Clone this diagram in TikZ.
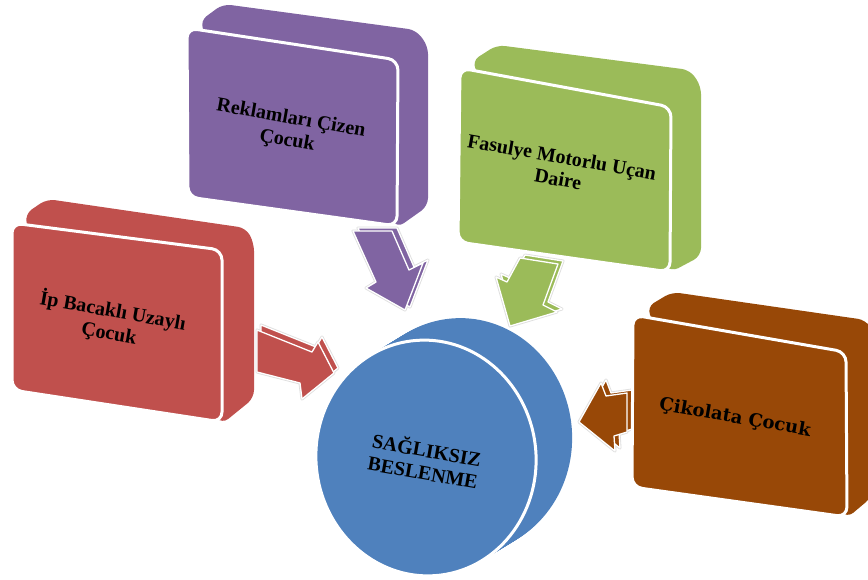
\documentclass[tikz,border=0pt]{standalone}
\usepackage{fontspec}
\setmainfont{Liberation Serif}
\newfontfamily\slabfont{DejaVu Serif}
\definecolor{cpurple}{HTML}{8064A2}
\definecolor{cred}{HTML}{C0504D}
\definecolor{cgreen}{HTML}{9BBB59}
\definecolor{cbrown}{HTML}{984807}
\definecolor{cblue}{HTML}{4F81BD}
\newcommand{\threedarrow}[3]{%
  \draw[halo, shift={#2}] #3 -- cycle;
  \draw[halo] #3 -- cycle;
  \filldraw[#1, face, shift={#2}] #3 -- cycle;
  \filldraw[#1, face] #3 -- cycle;}
\begin{document}
\begin{tikzpicture}[x=1pt,y=-1pt,
  halo/.style={draw=black!13, line width=3pt, line join=round},
  face/.style={draw=white, line width=1.3pt, line join=round},
  boxback/.style={rounded corners=8pt},
  boxfront/.style={rounded corners=10pt, draw=white, line width=3pt},
  lbl/.style={font=\bfseries\fontsize{20}{22.5}\selectfont, align=center, rotate=-10, text=black}]
\useasboundingbox (0,0) rectangle (868,579);
\clip (0,0) rectangle (868,579);

% block arrows
\threedarrow{cred}{(4,-5)}{(257,330) -- (312,352) -- (318,342) -- (334,373) -- (302,399) -- (300,383) -- (257,372)}
\threedarrow{cpurple}{(5,-3)}{(353,231) -- (392,231) -- (409,270) -- (423,263) -- (405,310) -- (366,288) -- (376,282)}
\threedarrow{cgreen}{(5,-3)}{(520,258) -- (558,264) -- (543,305) -- (557,312) -- (510,326) -- (496,277) -- (507,282)}
\threedarrow{cbrown}{(5,-3)}{(579,422) -- (601,383) -- (606,396) -- (627,393) -- (627,432) -- (614,436) -- (615,451)}

% red box
\fill[cred, boxback] (30,240) -- (25,214) -- (47,199) -- (246,228) -- (254,243) -- (254,398) -- (222,424) -- (200,400) -- cycle;
\filldraw[cred, boxfront] (12,223) -- (222,250) -- (222,422) -- (12,390) -- cycle;
% purple box
\fill[cpurple, boxback] (215,60) -- (200,21) -- (223,4) -- (416,30) -- (428,46) -- (428,206) -- (397,228) -- (380,200) -- cycle;
\filldraw[cpurple, boxfront] (187,28) -- (398,60) -- (397,226) -- (188,197) -- cycle;
% green box
\fill[cgreen, boxback] (490,100) -- (472,61) -- (497,45) -- (690,70) -- (701,86) -- (701,256) -- (671,272) -- (650,250) -- cycle;
\filldraw[cgreen, boxfront] (460,68) -- (671,107) -- (670,272) -- (458,242) -- cycle;
% brown box
\fill[cbrown, boxback] (660,340) -- (647,307) -- (672,292) -- (866,320) -- (872,330) -- (872,497) -- (847,518) -- (830,500) -- cycle;
\filldraw[cbrown, boxfront] (633,315) -- (846,352) -- (847,517) -- (632,487) -- cycle;

% central disc
\foreach \i in {0,...,25}
  \fill[cblue, shift={(1.44*\i,-0.88*\i)}, rotate around={7:(426,458)}] (426,458) ellipse [x radius=110, y radius=118];
\filldraw[cblue, draw=white, line width=3pt, rotate around={7:(426,458)}] (426,458) ellipse [x radius=110, y radius=118];

% labels
\node[lbl] (reklam) at (289,130) {Reklamları Çizen\\Çocuk};
\node[lbl] (ip) at (111,322) {İp Bacaklı Uzaylı\\Çocuk};
\node[lbl] (fasulye) at (560,168) {Fasulye Motorlu Uçan\\Daire};
\node[lbl, font=\slabfont\bfseries\fontsize{18}{20}\selectfont] (cikolata) at (735,418) {Çikolata Çocuk};
\node[lbl] (merkez) at (425,460) {SAĞLIKSIZ\\BESLENME};
\end{tikzpicture}
\end{document}
